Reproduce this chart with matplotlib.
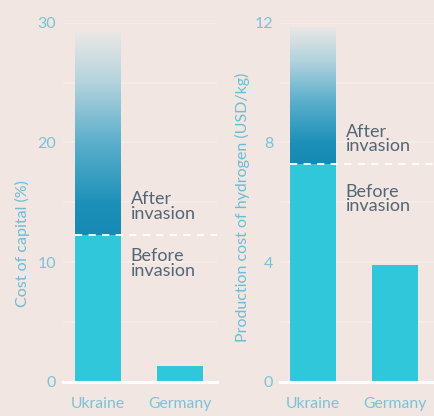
import numpy as np
import matplotlib
matplotlib.use("Agg")
import matplotlib.pyplot as plt
from matplotlib.colors import LinearSegmentedColormap

# ---- data ----
categories = ["Ukraine", "Germany"]
capital_before = [12.3, 1.3]
capital_after = [29.2, None]
h2_before = [7.27, 3.9]
h2_after = [11.87, None]
capital_ticks = [0, 10, 20, 30]
h2_ticks = [0, 4, 8, 12]
capital_label = "Cost of capital (%)"
h2_label = "Production cost of hydrogen (USD/kg)"
after_text = "After\ninvasion"
before_text = "Before\ninvasion"

BG = "#f1e6e1"
GRID = "#f6eeea"
BAR = "#31c7da"
TICK = "#7cc2d7"
YLAB = "#6dbcd6"
ANN = "#546675"
FONT = "Lato"

plt.rcParams["font.family"] = [FONT, "DejaVu Sans"]

fig = plt.figure(figsize=(4.34, 4.16), dpi=100, facecolor=BG)

grad_cmap = LinearSegmentedColormap.from_list(
    "g", [(0.0, "#1689b4"), (0.15, "#1c90b8"), (0.45, "#5aaecb"),
          (0.75, "#b2d3dd"), (1.0, "#ebe7e5")])


def panel(rect, before, after, ticks, ylabel, minor_step, xlim,
          ylab_pos, after_off, before_off):
    ax = fig.add_axes(rect)
    ax.set_facecolor(BG)
    x = np.arange(len(categories))
    width = 0.56
    ymax = ticks[-1]
    ax.set_xlim(*xlim)
    ax.set_ylim(0, ymax)
    # grid
    for g in np.arange(minor_step, ymax + 0.001, minor_step):
        ax.axhline(g, color=GRID, lw=1.2, zorder=0)
    # after (gradient) bars
    for i, (b, a) in enumerate(zip(before, after)):
        if a is None:
            continue
        patch = ax.bar(x[i], a - b, bottom=b, width=width,
                       color="none", edgecolor="none", zorder=2)[0]
        grad = np.linspace(0, 1, 256).reshape(-1, 1)
        im = ax.imshow(grad, cmap=grad_cmap, origin="lower", aspect="auto",
                       extent=(x[i] - width / 2, x[i] + width / 2, b, a),
                       zorder=2, interpolation="bicubic")
        im.set_clip_path(patch)
        # dashed line at before level
        ax.hlines(b, x[i] - width / 2, xlim[1], colors="white",
                  linestyles=(0, (4, 3.5)), lw=1.3, zorder=4, clip_on=False)
        ax.annotate(after_text, xy=(x[i] + width / 2, b),
                    xytext=after_off, textcoords="offset points",
                    ha="left", va="bottom", fontsize=13, color=ANN,
                    linespacing=0.9)
        ax.annotate(before_text, xy=(x[i] + width / 2, b),
                    xytext=before_off, textcoords="offset points",
                    ha="left", va="top", fontsize=13, color=ANN,
                    linespacing=0.9)
    ax.set_xlim(*xlim)
    ax.set_ylim(0, ymax)
    ax.bar(x, before, width=width, color=BAR, zorder=3)
    ax.axhline(0, color="white", lw=2.2, zorder=5, clip_on=False)
    for s in ax.spines.values():
        s.set_visible(False)
    ax.set_yticks(ticks)
    ax.set_yticklabels([str(t) for t in ticks])
    ax.set_xticks(x)
    ax.set_xticklabels(categories)
    ax.tick_params(axis="y", length=0, pad=5, labelsize=11.5, labelcolor=TICK)
    ax.tick_params(axis="x", length=0, pad=11, labelsize=11.3, labelcolor=TICK)
    ax.set_ylabel(ylabel, fontsize=11.5, color=YLAB)
    ax.yaxis.set_label_coords(*ylab_pos)
    return ax


H = 416.0
W = 434.0
bottom = (H - 381.7) / H
height = (381.7 - 22.7) / H

panel([63 / W, bottom, 154 / W, height], capital_before, capital_after,
      capital_ticks, capital_label, 5, (-0.427, 1.451),
      (-0.214, 0.386), (7, 9), (7, -10))
panel([280 / W, bottom, 154 / W, height], h2_before, h2_after,
      h2_ticks, h2_label, 2, (-0.402, 1.476),
      (-0.195, 0.487), (7, 7), (7, -14))

fig.savefig("out.png", dpi=100, facecolor=BG)
